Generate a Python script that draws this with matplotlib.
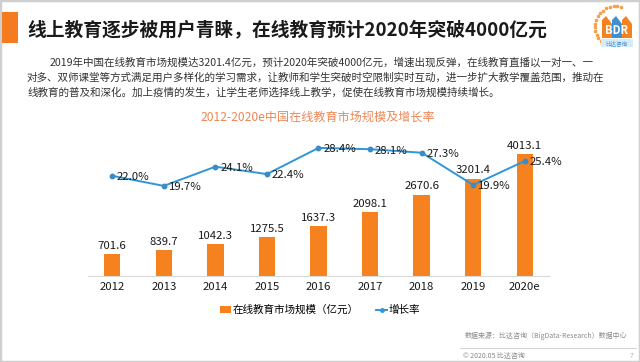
import numpy as np
import matplotlib
matplotlib.use("Agg")
import matplotlib.pyplot as plt
from matplotlib.patches import Patch, Rectangle, Polygon
from matplotlib.lines import Line2D

plt.rcParams['font.family'] = ['Noto Sans CJK SC', 'DejaVu Sans']

years = ["2012", "2013", "2014", "2015", "2016", "2017", "2018", "2019", "2020e"]
market = [701.6, 839.7, 1042.3, 1275.5, 1637.3, 2098.1, 2670.6, 3201.4, 4013.1]
growth = [22.0, 19.7, 24.1, 22.4, 28.4, 28.1, 27.3, 19.9, 25.4]

title = "线上教育逐步被用户青睐，在线教育预计2020年突破4000亿元"
para = [
    "2019年中国在线教育市场规模达3201.4亿元，预计2020年突破4000亿元，增速出现反弹，在线教育直播以一对一、一",
    "对多、双师课堂等方式满足用户多样化的学习需求，让教师和学生突破时空限制实时互动，进一步扩大教学覆盖范围，推动在",
    "线教育的普及和深化。加上疫情的发生，让学生老师选择线上教学，促使在线教育市场规模持续增长。",
]
chart_title = "2012-2020e中国在线教育市场规模及增长率"
bar_name = "在线教育市场规模（亿元）"
line_name = "增长率"
source = "数据来源：比达咨询（BigData-Research）数据中心"
footer = "© 2020.05 比达咨询"

ORANGE = "#F5821F"
BLUE = "#2F96D9"

W, H = 640, 362
fig = plt.figure(figsize=(6.4, 3.62), dpi=100)
fig.patch.set_facecolor("white")


def fx(px):
    return px / W


def fy(py):
    return 1 - py / H


# slide frame
fig.patches.append(Rectangle((0, 0), 1, 1, transform=fig.transFigure,
                             fill=False, edgecolor="#cfcfcf", linewidth=2.5))

# header
fig.patches.append(Rectangle((fx(2), fy(43)), fx(16), 31 / H, transform=fig.transFigure,
                             facecolor="#F47B20", edgecolor="none"))
fig.text(fx(27), fy(30), title, fontsize=13.5, fontweight="bold", color="#1a1a1a",
         ha="left", va="center")

fig.text(fx(50), fy(62), para[0], fontsize=7.6, color="#333333", ha="left", va="center")
fig.text(fx(27), fy(77.5), para[1], fontsize=7.6, color="#333333", ha="left", va="center")
fig.text(fx(27), fy(93), para[2], fontsize=7.6, color="#333333", ha="left", va="center")

fig.text(fx(318), fy(117), chart_title, fontsize=8.7, color="#EE8755", ha="center", va="center")

# chart
ax = fig.add_axes([fx(88), fy(275.5), 461 / W, (275.5 - 130) / H])
x = np.arange(len(years))
ax.bar(x, market, width=0.32, color=ORANGE, zorder=2)
ax.set_xlim(-0.47, 8.47)
ax.set_ylim(0, 4818)
for s in ["top", "left", "right"]:
    ax.spines[s].set_visible(False)
ax.spines["bottom"].set_color("#d9d9d9")
ax.set_yticks([])
ax.set_xticks(x)
ax.set_xticklabels(years, fontsize=8.2, color="#1a1a1a")
ax.tick_params(axis="x", length=0, pad=5)
for xi, v in zip(x, market):
    ax.annotate(f"{v:.1f}", (xi, v), xytext=(0, 2.5), textcoords="offset points",
                ha="center", va="bottom", fontsize=8.2, color="#1a1a1a")

ax2 = ax.twinx()
ax2.set_ylim(-0.83, 32.5)
ax2.axis("off")
ax2.plot(x, growth, color=BLUE, linewidth=1.4, marker="o", markersize=3.2,
         markerfacecolor="#3A8CC8", markeredgecolor="#3A8CC8", zorder=3)
for xi, v in zip(x, growth):
    ax2.annotate(f"{v:.1f}%", (xi, v), xytext=(3.5, -1), textcoords="offset points",
                 ha="left", va="center", fontsize=8.2, color="#1a1a1a")

handles = [Patch(facecolor=ORANGE, edgecolor="none"),
           Line2D([0], [0], color=BLUE, linewidth=1.4, marker="o", markersize=2.5)]
fig.legend(handles, [bar_name, line_name], loc="center", bbox_to_anchor=(fx(320), fy(310)),
           ncol=2, frameon=False, fontsize=7.6, handlelength=1.1, handleheight=0.6,
           handletextpad=0.15, columnspacing=1.6)

# footer
fig.text(fx(465), fy(336), source, fontsize=5, color="#8a8a8a", ha="left", va="center")
fig.add_artist(Line2D([fx(460), fx(636)], [fy(348), fy(348)], transform=fig.transFigure,
                      color="#d5d5d5", linewidth=0.8))
fig.text(fx(463), fy(356), footer, fontsize=5, color="#8a8a8a", ha="left", va="center")
fig.text(fx(630), fy(356), "7", fontsize=5, color="#b0b0b0", ha="left", va="center")

# logo
lg = fig.add_axes([fx(589), fy(52), 46 / W, 48 / H])
lg.set_xlim(0, 46)
lg.set_ylim(0, 48)
lg.axis("off")
ang = np.linspace(np.pi * 0.42, np.pi * 1.3, 16)
lg.scatter(27 + 21 * np.cos(ang), 25 + 21 * np.sin(ang), s=2.5, color="#F5A04A")
for x0, col in [(13, "#F5821F"), (23, "#3D8FD6"), (33, "#F5821F")]:
    lg.add_patch(Polygon([(x0, 14), (x0, 32), (x0 + 4, 36), (x0 + 10, 28), (x0 + 10, 14)],
                         closed=True, facecolor=col, edgecolor="none"))
lg.text(28, 21, "BDR", fontsize=8, color="white", ha="center", va="center", fontweight="bold")
lg.add_patch(Rectangle((12, 5), 32, 8, facecolor="#d8ecf8", edgecolor="none"))
lg.text(28, 9, "比达咨询", fontsize=4, color="#3D8FD6", ha="center", va="center")

fig.savefig("out.png", dpi=100)
